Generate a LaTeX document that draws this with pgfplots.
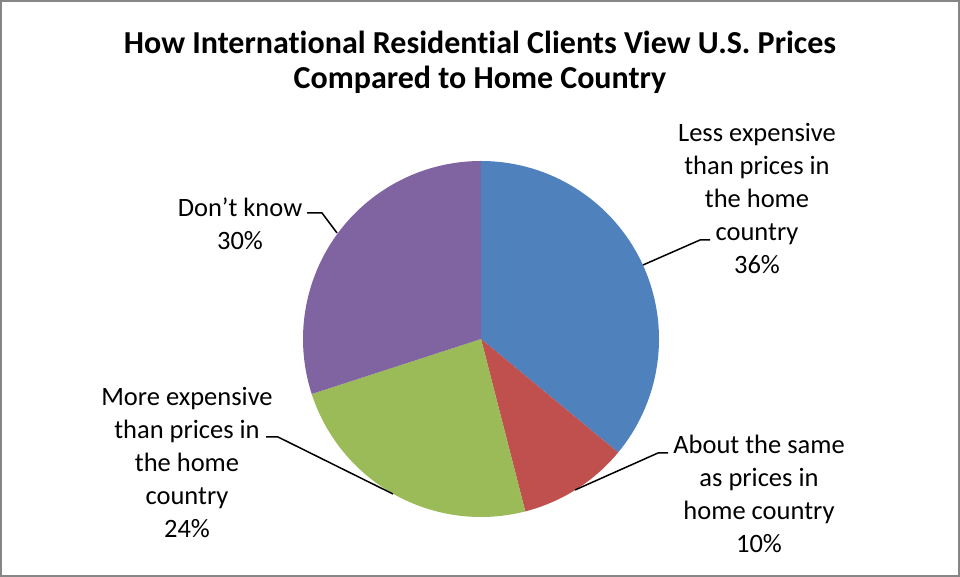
\documentclass[border=0pt]{standalone}
\usepackage{pgfplots}
\pgfplotsset{compat=1.18}
\usepackage{fontspec}
\setmainfont[Ligatures=NoCommon]{Carlito}
\definecolor{cBlue}{HTML}{4F81BD}
\definecolor{cRed}{HTML}{C0504D}
\definecolor{cGreen}{HTML}{9BBB59}
\definecolor{cPurple}{HTML}{8064A2}
\definecolor{frame}{HTML}{868686}
% shares in percent
\def\va{36}\def\vb{10}\def\vc{24}\def\vd{30}
\begin{document}
\begin{tikzpicture}[x=1bp,y=1bp]
\draw[color=frame, line width=2bp] (1,1) rectangle (959,576);
\begin{axis}[at={(481bp,238bp)}, anchor=center, hide axis, scale only axis,
  width=356bp, height=356bp, xmin=-1, xmax=1, ymin=-1, ymax=1, clip=false]
\addplot[fill=cBlue, draw=none, domain={90}:{90-3.6*\va}, samples=90] ({cos(x)},{sin(x)}) -- (axis cs:0,0) -- cycle;
\addplot[fill=cRed, draw=none, domain={90-3.6*\va}:{90-3.6*(\va+\vb)}, samples=40] ({cos(x)},{sin(x)}) -- (axis cs:0,0) -- cycle;
\addplot[fill=cGreen, draw=none, domain={90-3.6*(\va+\vb)}:{90-3.6*(\va+\vb+\vc)}, samples=70] ({cos(x)},{sin(x)}) -- (axis cs:0,0) -- cycle;
\addplot[fill=cPurple, draw=none, domain={90-3.6*(\va+\vb+\vc)}:{90-3.6*(\va+\vb+\vc+\vd)}, samples=80] ({cos(x)},{sin(x)}) -- (axis cs:0,0) -- cycle;
\end{axis}
\node[align=center, font=\fontsize{32bp}{35bp}\selectfont\bfseries] at (480,514.5) {How International Residential Clients View U.S. Prices\\Compared to Home Country};
\begin{scope}[every node/.style={align=center, font=\fontsize{26.5bp}{33bp}\selectfont}]
\node at (757,378) {Less expensive\\than prices in\\the home\\country\\36\%};
\node at (759,83) {About the same\\as prices in\\home country\\10\%};
\node at (187,114.5) {More expensive\\than prices in\\the home\\country\\24\%};
\node at (240,353) {Don’t know\\30\%};
\end{scope}
\begin{scope}[line width=1.5bp, black]
\draw (643,312) -- (700,337) -- (710,337);
\draw (575,87) -- (658,124) -- (668,124);
\draw (393,83) -- (278,140) -- (266,140);
\draw (337,344) -- (322,364) -- (307,364);
\end{scope}
\end{tikzpicture}
\end{document}
